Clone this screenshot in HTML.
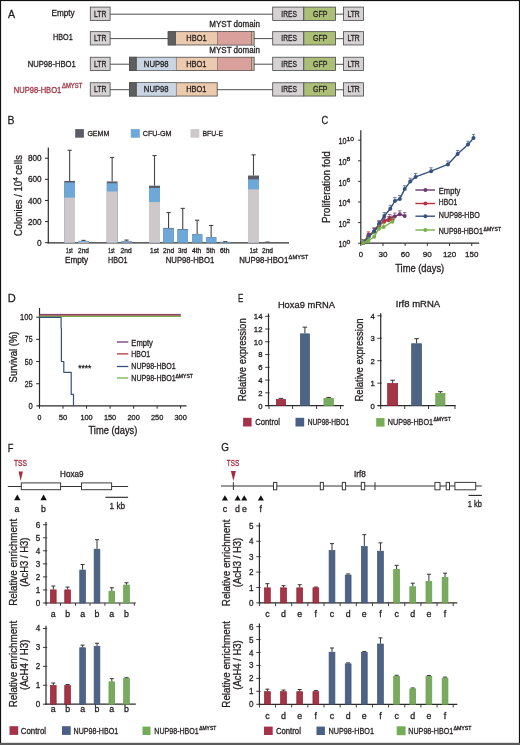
<!DOCTYPE html>
<html><head><meta charset="utf-8"><style>
html,body{margin:0;padding:0;background:#fff;width:520px;height:745px;overflow:hidden}
svg{display:block;will-change:transform}
text{font-family:"Liberation Sans",sans-serif;stroke-width:0.3px}
</style></head><body>
<svg width="520" height="745" viewBox="0 0 520 745">
<rect x="0" y="0" width="520" height="745" fill="#ffffff"/>
<g fill="#231f20">
<text x="7.90" y="17.80" font-size="11.8" stroke="#231f20" textLength="7.10" lengthAdjust="spacingAndGlyphs">A</text>
<rect x="90.30" y="7.10" width="19.80" height="13.30" fill="#d6d2d3" stroke="#505050" stroke-width="0.85"/>
<text x="100.20" y="16.65" font-size="8.7" text-anchor="middle" stroke="#231f20" textLength="12.30" lengthAdjust="spacingAndGlyphs">LTR</text>
<rect x="272.70" y="7.10" width="31.10" height="13.30" fill="#d6d2d3" stroke="#505050" stroke-width="0.85"/>
<text x="289.10" y="16.65" font-size="8.7" text-anchor="middle" stroke="#231f20" textLength="15.50" lengthAdjust="spacingAndGlyphs">IRES</text>
<rect x="303.80" y="7.10" width="31.70" height="13.30" fill="#abc076" stroke="#505050" stroke-width="0.85"/>
<text x="320.30" y="16.65" font-size="8.7" text-anchor="middle" stroke="#231f20" textLength="14.40" lengthAdjust="spacingAndGlyphs">GFP</text>
<rect x="343.50" y="7.10" width="20.00" height="13.30" fill="#d6d2d3" stroke="#505050" stroke-width="0.85"/>
<text x="353.60" y="16.65" font-size="8.7" text-anchor="middle" stroke="#231f20" textLength="12.30" lengthAdjust="spacingAndGlyphs">LTR</text>
<line x1="335.50" y1="14.15" x2="343.50" y2="14.15" stroke="#3a3a3a" stroke-width="0.9"/>
<rect x="90.30" y="31.65" width="19.80" height="13.30" fill="#d6d2d3" stroke="#505050" stroke-width="0.85"/>
<text x="100.20" y="41.20" font-size="8.7" text-anchor="middle" stroke="#231f20" textLength="12.30" lengthAdjust="spacingAndGlyphs">LTR</text>
<rect x="272.70" y="31.65" width="31.10" height="13.30" fill="#d6d2d3" stroke="#505050" stroke-width="0.85"/>
<text x="289.10" y="41.20" font-size="8.7" text-anchor="middle" stroke="#231f20" textLength="15.50" lengthAdjust="spacingAndGlyphs">IRES</text>
<rect x="303.80" y="31.65" width="31.70" height="13.30" fill="#abc076" stroke="#505050" stroke-width="0.85"/>
<text x="320.30" y="41.20" font-size="8.7" text-anchor="middle" stroke="#231f20" textLength="14.40" lengthAdjust="spacingAndGlyphs">GFP</text>
<rect x="343.50" y="31.65" width="20.00" height="13.30" fill="#d6d2d3" stroke="#505050" stroke-width="0.85"/>
<text x="353.60" y="41.20" font-size="8.7" text-anchor="middle" stroke="#231f20" textLength="12.30" lengthAdjust="spacingAndGlyphs">LTR</text>
<line x1="335.50" y1="38.70" x2="343.50" y2="38.70" stroke="#3a3a3a" stroke-width="0.9"/>
<rect x="90.30" y="57.25" width="19.80" height="13.30" fill="#d6d2d3" stroke="#505050" stroke-width="0.85"/>
<text x="100.20" y="66.80" font-size="8.7" text-anchor="middle" stroke="#231f20" textLength="12.30" lengthAdjust="spacingAndGlyphs">LTR</text>
<rect x="272.70" y="57.25" width="31.10" height="13.30" fill="#d6d2d3" stroke="#505050" stroke-width="0.85"/>
<text x="289.10" y="66.80" font-size="8.7" text-anchor="middle" stroke="#231f20" textLength="15.50" lengthAdjust="spacingAndGlyphs">IRES</text>
<rect x="303.80" y="57.25" width="31.70" height="13.30" fill="#abc076" stroke="#505050" stroke-width="0.85"/>
<text x="320.30" y="66.80" font-size="8.7" text-anchor="middle" stroke="#231f20" textLength="14.40" lengthAdjust="spacingAndGlyphs">GFP</text>
<rect x="343.50" y="57.25" width="20.00" height="13.30" fill="#d6d2d3" stroke="#505050" stroke-width="0.85"/>
<text x="353.60" y="66.80" font-size="8.7" text-anchor="middle" stroke="#231f20" textLength="12.30" lengthAdjust="spacingAndGlyphs">LTR</text>
<line x1="335.50" y1="64.30" x2="343.50" y2="64.30" stroke="#3a3a3a" stroke-width="0.9"/>
<rect x="90.30" y="82.75" width="19.80" height="13.30" fill="#d6d2d3" stroke="#505050" stroke-width="0.85"/>
<text x="100.20" y="92.30" font-size="8.7" text-anchor="middle" stroke="#231f20" textLength="12.30" lengthAdjust="spacingAndGlyphs">LTR</text>
<rect x="272.70" y="82.75" width="31.10" height="13.30" fill="#d6d2d3" stroke="#505050" stroke-width="0.85"/>
<text x="289.10" y="92.30" font-size="8.7" text-anchor="middle" stroke="#231f20" textLength="15.50" lengthAdjust="spacingAndGlyphs">IRES</text>
<rect x="303.80" y="82.75" width="31.70" height="13.30" fill="#abc076" stroke="#505050" stroke-width="0.85"/>
<text x="320.30" y="92.30" font-size="8.7" text-anchor="middle" stroke="#231f20" textLength="14.40" lengthAdjust="spacingAndGlyphs">GFP</text>
<rect x="343.50" y="82.75" width="20.00" height="13.30" fill="#d6d2d3" stroke="#505050" stroke-width="0.85"/>
<text x="353.60" y="92.30" font-size="8.7" text-anchor="middle" stroke="#231f20" textLength="12.30" lengthAdjust="spacingAndGlyphs">LTR</text>
<line x1="335.50" y1="89.80" x2="343.50" y2="89.80" stroke="#3a3a3a" stroke-width="0.9"/>
<text x="74.60" y="16.10" font-size="8.2" text-anchor="end" stroke="#231f20" textLength="23.10" lengthAdjust="spacingAndGlyphs">Empty</text>
<text x="72.70" y="40.10" font-size="8.2" text-anchor="end" stroke="#231f20" textLength="19.70" lengthAdjust="spacingAndGlyphs">HBO1</text>
<text x="75.80" y="67.30" font-size="8.4" text-anchor="end" stroke="#231f20" textLength="48.10" lengthAdjust="spacingAndGlyphs">NUP98-HBO1</text>
<text x="61.20" y="92.70" font-size="8.4" text-anchor="end" fill="#a23646" stroke="#a23646" textLength="47.40" lengthAdjust="spacingAndGlyphs">NUP98-HBO1</text>
<text x="62.00" y="88.10" font-size="6.3" fill="#a23646" stroke="#a23646" stroke-width="0.05" textLength="20.30" lengthAdjust="spacingAndGlyphs">&#916;MYST</text>
<line x1="110.10" y1="14.20" x2="272.70" y2="14.20" stroke="#3a3a3a" stroke-width="0.9"/>
<line x1="110.10" y1="38.60" x2="168.20" y2="38.60" stroke="#3a3a3a" stroke-width="0.9"/>
<rect x="168.20" y="31.65" width="85.80" height="13.30" fill="#eccaae" stroke="#505050" stroke-width="0.85"/>
<rect x="168.20" y="31.65" width="7.30" height="13.30" fill="#5e5f61" stroke="#505050" stroke-width="0.85"/>
<rect x="217.50" y="31.65" width="33.80" height="13.30" fill="#d9a09c" stroke="#505050" stroke-width="0.5"/>
<rect x="251.30" y="31.65" width="2.70" height="13.30" fill="#c9b49b" stroke="#505050" stroke-width="0.5"/>
<text x="196.50" y="41.20" font-size="8.7" text-anchor="middle" stroke="#231f20" textLength="20.30" lengthAdjust="spacingAndGlyphs">HBO1</text>
<line x1="254.00" y1="38.60" x2="272.70" y2="38.60" stroke="#3a3a3a" stroke-width="0.9"/>
<text x="209.30" y="26.80" font-size="8.5" stroke="#231f20" textLength="50.60" lengthAdjust="spacingAndGlyphs">MYST domain</text>
<line x1="110.10" y1="64.20" x2="129.50" y2="64.20" stroke="#3a3a3a" stroke-width="0.9"/>
<rect x="129.50" y="57.25" width="124.50" height="13.30" fill="#eccaae" stroke="#505050" stroke-width="0.85"/>
<rect x="136.20" y="57.25" width="40.00" height="13.30" fill="#c9d5e3" stroke="#505050" stroke-width="0.5"/>
<rect x="129.50" y="57.25" width="6.70" height="13.30" fill="#5e5f61" stroke="#505050" stroke-width="0.85"/>
<rect x="217.50" y="57.25" width="33.80" height="13.30" fill="#d9a09c" stroke="#505050" stroke-width="0.5"/>
<rect x="251.30" y="57.25" width="2.70" height="13.30" fill="#c9b49b" stroke="#505050" stroke-width="0.5"/>
<text x="156.20" y="66.90" font-size="8.7" text-anchor="middle" stroke="#231f20" textLength="24.70" lengthAdjust="spacingAndGlyphs">NUP98</text>
<text x="196.30" y="66.90" font-size="8.7" text-anchor="middle" stroke="#231f20" textLength="20.30" lengthAdjust="spacingAndGlyphs">HBO1</text>
<line x1="254.00" y1="64.20" x2="272.70" y2="64.20" stroke="#3a3a3a" stroke-width="0.9"/>
<text x="209.30" y="53.40" font-size="8.5" stroke="#231f20" textLength="50.60" lengthAdjust="spacingAndGlyphs">MYST domain</text>
<line x1="110.10" y1="89.70" x2="129.50" y2="89.70" stroke="#3a3a3a" stroke-width="0.9"/>
<rect x="129.50" y="82.75" width="87.70" height="13.30" fill="#eccaae" stroke="#505050" stroke-width="0.85"/>
<rect x="136.20" y="82.75" width="40.00" height="13.30" fill="#c9d5e3" stroke="#505050" stroke-width="0.5"/>
<rect x="129.50" y="82.75" width="6.70" height="13.30" fill="#5e5f61" stroke="#505050" stroke-width="0.85"/>
<text x="156.20" y="92.40" font-size="8.7" text-anchor="middle" stroke="#231f20" textLength="24.70" lengthAdjust="spacingAndGlyphs">NUP98</text>
<text x="196.30" y="92.40" font-size="8.7" text-anchor="middle" stroke="#231f20" textLength="20.30" lengthAdjust="spacingAndGlyphs">HBO1</text>
<line x1="217.20" y1="89.70" x2="272.70" y2="89.70" stroke="#3a3a3a" stroke-width="0.9"/>
<text x="7.50" y="123.80" font-size="11.8" stroke="#231f20" textLength="7.00" lengthAdjust="spacingAndGlyphs">B</text>
<rect x="75.20" y="129.10" width="8.70" height="8.60" fill="#5a5c68"/>
<text x="87.40" y="135.80" font-size="8.0" stroke="#231f20" textLength="21.90" lengthAdjust="spacingAndGlyphs">GEMM</text>
<rect x="130.80" y="129.10" width="9.00" height="8.60" fill="#6ea8d8"/>
<text x="142.70" y="135.80" font-size="8.0" stroke="#231f20" textLength="28.80" lengthAdjust="spacingAndGlyphs">CFU-GM</text>
<rect x="190.50" y="129.10" width="8.80" height="8.60" fill="#cec8ca"/>
<text x="202.50" y="135.80" font-size="8.0" stroke="#231f20" textLength="20.50" lengthAdjust="spacingAndGlyphs">BFU-E</text>
<line x1="48.30" y1="147.50" x2="48.30" y2="243.20" stroke="#2b2b2b" stroke-width="1.2"/>
<line x1="47.70" y1="242.80" x2="289.00" y2="242.80" stroke="#2b2b2b" stroke-width="1.2"/>
<line x1="45.00" y1="242.70" x2="48.30" y2="242.70" stroke="#2b2b2b" stroke-width="1"/>
<text x="41.60" y="245.80" font-size="8.6" text-anchor="end" stroke="#231f20" textLength="4.60" lengthAdjust="spacingAndGlyphs">0</text>
<line x1="45.00" y1="221.58" x2="48.30" y2="221.58" stroke="#2b2b2b" stroke-width="1"/>
<text x="41.60" y="224.68" font-size="8.6" text-anchor="end" stroke="#231f20" textLength="13.60" lengthAdjust="spacingAndGlyphs">200</text>
<line x1="45.00" y1="200.46" x2="48.30" y2="200.46" stroke="#2b2b2b" stroke-width="1"/>
<text x="41.60" y="203.56" font-size="8.6" text-anchor="end" stroke="#231f20" textLength="13.60" lengthAdjust="spacingAndGlyphs">400</text>
<line x1="45.00" y1="179.34" x2="48.30" y2="179.34" stroke="#2b2b2b" stroke-width="1"/>
<text x="41.60" y="182.44" font-size="8.6" text-anchor="end" stroke="#231f20" textLength="13.60" lengthAdjust="spacingAndGlyphs">600</text>
<line x1="45.00" y1="158.22" x2="48.30" y2="158.22" stroke="#2b2b2b" stroke-width="1"/>
<text x="41.60" y="161.32" font-size="8.6" text-anchor="end" stroke="#231f20" textLength="13.60" lengthAdjust="spacingAndGlyphs">800</text>
<text x="21.6" y="195.6" font-size="10.4" stroke="#231f20" stroke-width="0.15" text-anchor="middle" transform="rotate(-90 21.6 195.6)" textLength="81" lengthAdjust="spacingAndGlyphs">Colonies / 10<tspan font-size="7.6" dy="-3.9">4</tspan><tspan dy="3.9"> ce</tspan><tspan dx="0.35">l</tspan><tspan dx="0.35">l</tspan><tspan>s</tspan></text>
<line x1="69.65" y1="150.30" x2="69.65" y2="180.92" stroke="#454545" stroke-width="1.1"/>
<line x1="67.55" y1="150.30" x2="71.75" y2="150.30" stroke="#454545" stroke-width="1.1"/>
<rect x="64.30" y="180.92" width="10.70" height="61.78" fill="#5a5c68"/>
<rect x="64.30" y="182.51" width="10.70" height="60.19" fill="#6ea8d8"/>
<rect x="64.30" y="197.61" width="10.70" height="45.09" fill="#cec8ca"/>
<line x1="83.55" y1="240.38" x2="83.55" y2="240.90" stroke="#454545" stroke-width="1.1"/>
<line x1="81.45" y1="240.38" x2="85.65" y2="240.38" stroke="#454545" stroke-width="1.1"/>
<rect x="78.30" y="240.90" width="10.50" height="1.80" fill="#5a5c68"/>
<rect x="78.30" y="241.01" width="10.50" height="1.69" fill="#6ea8d8"/>
<rect x="78.30" y="241.86" width="10.50" height="0.84" fill="#cec8ca"/>
<line x1="112.15" y1="157.48" x2="112.15" y2="181.45" stroke="#454545" stroke-width="1.1"/>
<line x1="110.05" y1="157.48" x2="114.25" y2="157.48" stroke="#454545" stroke-width="1.1"/>
<rect x="106.80" y="181.45" width="10.70" height="61.25" fill="#5a5c68"/>
<rect x="106.80" y="183.25" width="10.70" height="59.45" fill="#6ea8d8"/>
<rect x="106.80" y="191.48" width="10.70" height="51.22" fill="#cec8ca"/>
<line x1="126.55" y1="240.06" x2="126.55" y2="241.33" stroke="#454545" stroke-width="1.1"/>
<line x1="124.45" y1="240.06" x2="128.65" y2="240.06" stroke="#454545" stroke-width="1.1"/>
<rect x="121.30" y="241.33" width="10.50" height="1.37" fill="#5a5c68"/>
<rect x="121.30" y="241.43" width="10.50" height="1.27" fill="#6ea8d8"/>
<rect x="121.30" y="242.49" width="10.50" height="0.21" fill="#cec8ca"/>
<line x1="154.50" y1="155.58" x2="154.50" y2="185.68" stroke="#454545" stroke-width="1.1"/>
<line x1="152.40" y1="155.58" x2="156.60" y2="155.58" stroke="#454545" stroke-width="1.1"/>
<rect x="149.00" y="185.68" width="11.00" height="57.02" fill="#5a5c68"/>
<rect x="149.00" y="188.00" width="11.00" height="54.70" fill="#6ea8d8"/>
<rect x="149.00" y="202.04" width="11.00" height="40.66" fill="#cec8ca"/>
<line x1="168.55" y1="212.60" x2="168.55" y2="227.92" stroke="#454545" stroke-width="1.1"/>
<line x1="166.45" y1="212.60" x2="170.65" y2="212.60" stroke="#454545" stroke-width="1.1"/>
<rect x="163.30" y="227.92" width="10.50" height="14.78" fill="#5a5c68"/>
<rect x="163.30" y="228.44" width="10.50" height="14.26" fill="#6ea8d8"/>
<line x1="182.75" y1="208.38" x2="182.75" y2="228.97" stroke="#454545" stroke-width="1.1"/>
<line x1="180.65" y1="208.38" x2="184.85" y2="208.38" stroke="#454545" stroke-width="1.1"/>
<rect x="177.50" y="228.97" width="10.50" height="13.73" fill="#5a5c68"/>
<rect x="177.50" y="229.50" width="10.50" height="13.20" fill="#6ea8d8"/>
<line x1="197.15" y1="220.21" x2="197.15" y2="234.25" stroke="#454545" stroke-width="1.1"/>
<line x1="195.05" y1="220.21" x2="199.25" y2="220.21" stroke="#454545" stroke-width="1.1"/>
<rect x="192.00" y="234.25" width="10.30" height="8.45" fill="#5a5c68"/>
<rect x="192.00" y="234.46" width="10.30" height="8.24" fill="#6ea8d8"/>
<line x1="211.15" y1="225.49" x2="211.15" y2="237.00" stroke="#454545" stroke-width="1.1"/>
<line x1="209.05" y1="225.49" x2="213.25" y2="225.49" stroke="#454545" stroke-width="1.1"/>
<rect x="206.00" y="237.00" width="10.30" height="5.70" fill="#5a5c68"/>
<rect x="206.00" y="237.21" width="10.30" height="5.49" fill="#6ea8d8"/>
<line x1="225.25" y1="241.64" x2="225.25" y2="241.86" stroke="#454545" stroke-width="1.1"/>
<line x1="223.15" y1="241.64" x2="227.35" y2="241.64" stroke="#454545" stroke-width="1.1"/>
<rect x="220.00" y="241.86" width="10.50" height="0.84" fill="#5a5c68"/>
<rect x="220.00" y="242.07" width="10.50" height="0.63" fill="#6ea8d8"/>
<line x1="253.50" y1="154.84" x2="253.50" y2="175.54" stroke="#454545" stroke-width="1.1"/>
<line x1="251.40" y1="154.84" x2="255.60" y2="154.84" stroke="#454545" stroke-width="1.1"/>
<rect x="248.00" y="175.54" width="11.00" height="67.16" fill="#5a5c68"/>
<rect x="248.00" y="179.34" width="11.00" height="63.36" fill="#6ea8d8"/>
<rect x="248.00" y="189.37" width="11.00" height="53.33" fill="#cec8ca"/>
<line x1="267.50" y1="242.07" x2="267.50" y2="242.28" stroke="#454545" stroke-width="1.1"/>
<line x1="265.40" y1="242.07" x2="269.60" y2="242.07" stroke="#454545" stroke-width="1.1"/>
<rect x="264.50" y="242.28" width="6.00" height="0.42" fill="#5a5c68"/>
<rect x="264.50" y="242.59" width="6.00" height="0.11" fill="#6ea8d8"/>
<text x="66.10" y="252.90" font-size="6.6" stroke="#231f20" textLength="6.60" lengthAdjust="spacingAndGlyphs">1st</text>
<text x="78.00" y="252.90" font-size="6.6" stroke="#231f20" textLength="10.90" lengthAdjust="spacingAndGlyphs">2nd</text>
<text x="108.30" y="252.90" font-size="6.6" stroke="#231f20" textLength="6.20" lengthAdjust="spacingAndGlyphs">1st</text>
<text x="120.60" y="252.90" font-size="6.6" stroke="#231f20" textLength="11.10" lengthAdjust="spacingAndGlyphs">2nd</text>
<text x="150.00" y="252.90" font-size="6.6" stroke="#231f20" textLength="8.70" lengthAdjust="spacingAndGlyphs">1st</text>
<text x="163.00" y="252.90" font-size="6.6" stroke="#231f20" textLength="11.20" lengthAdjust="spacingAndGlyphs">2nd</text>
<text x="178.00" y="252.90" font-size="6.6" stroke="#231f20" textLength="9.00" lengthAdjust="spacingAndGlyphs">3rd</text>
<text x="192.00" y="252.90" font-size="6.6" stroke="#231f20" textLength="9.20" lengthAdjust="spacingAndGlyphs">4th</text>
<text x="206.20" y="252.90" font-size="6.6" stroke="#231f20" textLength="8.80" lengthAdjust="spacingAndGlyphs">5th</text>
<text x="220.00" y="252.90" font-size="6.6" stroke="#231f20" textLength="9.50" lengthAdjust="spacingAndGlyphs">6th</text>
<text x="249.80" y="252.90" font-size="6.6" stroke="#231f20" textLength="7.70" lengthAdjust="spacingAndGlyphs">1st</text>
<text x="262.00" y="252.90" font-size="6.6" stroke="#231f20" textLength="11.00" lengthAdjust="spacingAndGlyphs">2nd</text>
<text x="65.00" y="263.00" font-size="8.3" stroke="#231f20" textLength="23.10" lengthAdjust="spacingAndGlyphs">Empty</text>
<text x="108.00" y="263.00" font-size="8.3" stroke="#231f20" textLength="19.50" lengthAdjust="spacingAndGlyphs">HBO1</text>
<text x="165.80" y="263.00" font-size="8.3" stroke="#231f20" textLength="48.40" lengthAdjust="spacingAndGlyphs">NUP98-HBO1</text>
<text x="239.20" y="263.00" font-size="8.3" stroke="#231f20" textLength="49.10" lengthAdjust="spacingAndGlyphs">NUP98-HBO1</text>
<text x="288.60" y="258.60" font-size="6.0" stroke="#231f20" stroke-width="0.05" textLength="19.80" lengthAdjust="spacingAndGlyphs">&#916;MYST</text>
<text x="321.40" y="123.80" font-size="11.8" stroke="#231f20" textLength="6.70" lengthAdjust="spacingAndGlyphs">C</text>
<line x1="360.80" y1="130.20" x2="360.80" y2="243.70" stroke="#2b2b2b" stroke-width="1.2"/>
<line x1="360.20" y1="243.20" x2="479.20" y2="243.20" stroke="#2b2b2b" stroke-width="1.2"/>
<line x1="358.20" y1="243.20" x2="360.80" y2="243.20" stroke="#2b2b2b" stroke-width="1"/>
<text x="338.40" y="247.40" font-size="8.5" stroke="#231f20" textLength="8.10" lengthAdjust="spacingAndGlyphs">10</text>
<text x="346.40" y="243.80" font-size="5.8" stroke="#231f20" stroke-width="0.05" textLength="3.80" lengthAdjust="spacingAndGlyphs">0</text>
<line x1="358.20" y1="222.60" x2="360.80" y2="222.60" stroke="#2b2b2b" stroke-width="1"/>
<text x="338.40" y="226.80" font-size="8.5" stroke="#231f20" textLength="8.10" lengthAdjust="spacingAndGlyphs">10</text>
<text x="346.40" y="223.20" font-size="5.8" stroke="#231f20" stroke-width="0.05" textLength="3.80" lengthAdjust="spacingAndGlyphs">2</text>
<line x1="358.20" y1="202.00" x2="360.80" y2="202.00" stroke="#2b2b2b" stroke-width="1"/>
<text x="338.40" y="206.20" font-size="8.5" stroke="#231f20" textLength="8.10" lengthAdjust="spacingAndGlyphs">10</text>
<text x="346.40" y="202.60" font-size="5.8" stroke="#231f20" stroke-width="0.05" textLength="3.80" lengthAdjust="spacingAndGlyphs">4</text>
<line x1="358.20" y1="181.40" x2="360.80" y2="181.40" stroke="#2b2b2b" stroke-width="1"/>
<text x="338.40" y="185.60" font-size="8.5" stroke="#231f20" textLength="8.10" lengthAdjust="spacingAndGlyphs">10</text>
<text x="346.40" y="182.00" font-size="5.8" stroke="#231f20" stroke-width="0.05" textLength="3.80" lengthAdjust="spacingAndGlyphs">6</text>
<line x1="358.20" y1="160.80" x2="360.80" y2="160.80" stroke="#2b2b2b" stroke-width="1"/>
<text x="338.40" y="165.00" font-size="8.5" stroke="#231f20" textLength="8.10" lengthAdjust="spacingAndGlyphs">10</text>
<text x="346.40" y="161.40" font-size="5.8" stroke="#231f20" stroke-width="0.05" textLength="3.80" lengthAdjust="spacingAndGlyphs">8</text>
<line x1="358.20" y1="140.20" x2="360.80" y2="140.20" stroke="#2b2b2b" stroke-width="1"/>
<text x="338.40" y="144.40" font-size="8.5" stroke="#231f20" textLength="8.10" lengthAdjust="spacingAndGlyphs">10</text>
<text x="346.40" y="140.80" font-size="5.8" stroke="#231f20" stroke-width="0.05" textLength="7.60" lengthAdjust="spacingAndGlyphs">10</text>
<line x1="360.80" y1="243.20" x2="360.80" y2="245.90" stroke="#2b2b2b" stroke-width="1"/>
<text x="360.80" y="257.10" font-size="8.1" text-anchor="middle" stroke="#231f20" textLength="4.30" lengthAdjust="spacingAndGlyphs">0</text>
<line x1="382.99" y1="243.20" x2="382.99" y2="245.90" stroke="#2b2b2b" stroke-width="1"/>
<text x="382.99" y="257.10" font-size="8.1" text-anchor="middle" stroke="#231f20" textLength="9.00" lengthAdjust="spacingAndGlyphs">30</text>
<line x1="405.17" y1="243.20" x2="405.17" y2="245.90" stroke="#2b2b2b" stroke-width="1"/>
<text x="405.17" y="257.10" font-size="8.1" text-anchor="middle" stroke="#231f20" textLength="9.00" lengthAdjust="spacingAndGlyphs">60</text>
<line x1="427.36" y1="243.20" x2="427.36" y2="245.90" stroke="#2b2b2b" stroke-width="1"/>
<text x="427.36" y="257.10" font-size="8.1" text-anchor="middle" stroke="#231f20" textLength="9.00" lengthAdjust="spacingAndGlyphs">90</text>
<line x1="449.54" y1="243.20" x2="449.54" y2="245.90" stroke="#2b2b2b" stroke-width="1"/>
<text x="449.54" y="257.10" font-size="8.1" text-anchor="middle" stroke="#231f20" textLength="13.30" lengthAdjust="spacingAndGlyphs">120</text>
<line x1="471.73" y1="243.20" x2="471.73" y2="245.90" stroke="#2b2b2b" stroke-width="1"/>
<text x="471.73" y="257.10" font-size="8.1" text-anchor="middle" stroke="#231f20" textLength="13.30" lengthAdjust="spacingAndGlyphs">150</text>
<text x="419.70" y="271.80" font-size="10.1" text-anchor="middle" stroke="#231f20" textLength="49.00" lengthAdjust="spacingAndGlyphs">Time (days)</text>
<text x="329.80" y="187.10" font-size="10.6" text-anchor="middle" stroke="#231f20" stroke-width="0.15" textLength="72.00" lengthAdjust="spacingAndGlyphs" transform="rotate(-90 329.80 187.10)">Proliferation fold</text>
<polyline points="363.20,243.10 368.60,236.70 374.20,231.50 379.00,225.00 384.30,221.00 389.70,217.90 394.70,216.50 399.80,214.20 404.70,216.00" stroke="#6b3a6e" stroke-width="1.4" fill="none" stroke-linejoin="round"/>
<circle cx="363.20" cy="243.10" r="2.0" fill="#6b3a6e"/>
<line x1="363.20" y1="239.70" x2="363.20" y2="243.10" stroke="#6b3a6e" stroke-width="0.7"/>
<line x1="361.50" y1="239.70" x2="364.90" y2="239.70" stroke="#6b3a6e" stroke-width="0.7"/>
<circle cx="368.60" cy="236.70" r="2.0" fill="#6b3a6e"/>
<line x1="368.60" y1="233.30" x2="368.60" y2="236.70" stroke="#6b3a6e" stroke-width="0.7"/>
<line x1="366.90" y1="233.30" x2="370.30" y2="233.30" stroke="#6b3a6e" stroke-width="0.7"/>
<circle cx="374.20" cy="231.50" r="2.0" fill="#6b3a6e"/>
<line x1="374.20" y1="228.10" x2="374.20" y2="231.50" stroke="#6b3a6e" stroke-width="0.7"/>
<line x1="372.50" y1="228.10" x2="375.90" y2="228.10" stroke="#6b3a6e" stroke-width="0.7"/>
<circle cx="379.00" cy="225.00" r="2.0" fill="#6b3a6e"/>
<line x1="379.00" y1="221.60" x2="379.00" y2="225.00" stroke="#6b3a6e" stroke-width="0.7"/>
<line x1="377.30" y1="221.60" x2="380.70" y2="221.60" stroke="#6b3a6e" stroke-width="0.7"/>
<circle cx="384.30" cy="221.00" r="2.0" fill="#6b3a6e"/>
<line x1="384.30" y1="217.60" x2="384.30" y2="221.00" stroke="#6b3a6e" stroke-width="0.7"/>
<line x1="382.60" y1="217.60" x2="386.00" y2="217.60" stroke="#6b3a6e" stroke-width="0.7"/>
<circle cx="389.70" cy="217.90" r="2.0" fill="#6b3a6e"/>
<line x1="389.70" y1="214.50" x2="389.70" y2="217.90" stroke="#6b3a6e" stroke-width="0.7"/>
<line x1="388.00" y1="214.50" x2="391.40" y2="214.50" stroke="#6b3a6e" stroke-width="0.7"/>
<circle cx="394.70" cy="216.50" r="2.0" fill="#6b3a6e"/>
<line x1="394.70" y1="213.10" x2="394.70" y2="216.50" stroke="#6b3a6e" stroke-width="0.7"/>
<line x1="393.00" y1="213.10" x2="396.40" y2="213.10" stroke="#6b3a6e" stroke-width="0.7"/>
<circle cx="399.80" cy="214.20" r="2.0" fill="#6b3a6e"/>
<line x1="399.80" y1="210.80" x2="399.80" y2="214.20" stroke="#6b3a6e" stroke-width="0.7"/>
<line x1="398.10" y1="210.80" x2="401.50" y2="210.80" stroke="#6b3a6e" stroke-width="0.7"/>
<circle cx="404.70" cy="216.00" r="2.0" fill="#6b3a6e"/>
<line x1="404.70" y1="212.60" x2="404.70" y2="216.00" stroke="#6b3a6e" stroke-width="0.7"/>
<line x1="403.00" y1="212.60" x2="406.40" y2="212.60" stroke="#6b3a6e" stroke-width="0.7"/>
<polyline points="363.20,243.10 368.40,235.20 374.20,231.50 379.30,225.20 384.00,221.70 388.60,220.20 392.60,219.40" stroke="#b8323f" stroke-width="1.4" fill="none" stroke-linejoin="round"/>
<circle cx="363.20" cy="243.10" r="2.0" fill="#b8323f"/>
<line x1="363.20" y1="239.70" x2="363.20" y2="243.10" stroke="#b8323f" stroke-width="0.7"/>
<line x1="361.50" y1="239.70" x2="364.90" y2="239.70" stroke="#b8323f" stroke-width="0.7"/>
<circle cx="368.40" cy="235.20" r="2.0" fill="#b8323f"/>
<line x1="368.40" y1="231.80" x2="368.40" y2="235.20" stroke="#b8323f" stroke-width="0.7"/>
<line x1="366.70" y1="231.80" x2="370.10" y2="231.80" stroke="#b8323f" stroke-width="0.7"/>
<circle cx="374.20" cy="231.50" r="2.0" fill="#b8323f"/>
<line x1="374.20" y1="228.10" x2="374.20" y2="231.50" stroke="#b8323f" stroke-width="0.7"/>
<line x1="372.50" y1="228.10" x2="375.90" y2="228.10" stroke="#b8323f" stroke-width="0.7"/>
<circle cx="379.30" cy="225.20" r="2.0" fill="#b8323f"/>
<line x1="379.30" y1="221.80" x2="379.30" y2="225.20" stroke="#b8323f" stroke-width="0.7"/>
<line x1="377.60" y1="221.80" x2="381.00" y2="221.80" stroke="#b8323f" stroke-width="0.7"/>
<circle cx="384.00" cy="221.70" r="2.0" fill="#b8323f"/>
<line x1="384.00" y1="218.30" x2="384.00" y2="221.70" stroke="#b8323f" stroke-width="0.7"/>
<line x1="382.30" y1="218.30" x2="385.70" y2="218.30" stroke="#b8323f" stroke-width="0.7"/>
<circle cx="388.60" cy="220.20" r="2.0" fill="#b8323f"/>
<line x1="388.60" y1="216.80" x2="388.60" y2="220.20" stroke="#b8323f" stroke-width="0.7"/>
<line x1="386.90" y1="216.80" x2="390.30" y2="216.80" stroke="#b8323f" stroke-width="0.7"/>
<circle cx="392.60" cy="219.40" r="2.0" fill="#b8323f"/>
<line x1="392.60" y1="216.00" x2="392.60" y2="219.40" stroke="#b8323f" stroke-width="0.7"/>
<line x1="390.90" y1="216.00" x2="394.30" y2="216.00" stroke="#b8323f" stroke-width="0.7"/>
<polyline points="363.20,243.10 368.60,236.70 374.20,231.50 379.00,224.00 384.30,216.00 390.30,208.70 394.90,201.00 399.80,198.90 404.70,189.10 410.20,181.60 415.60,176.90 431.10,171.20 447.90,164.40 457.60,153.90 468.00,144.60 473.50,138.00" stroke="#35527f" stroke-width="1.4" fill="none" stroke-linejoin="round"/>
<circle cx="363.20" cy="243.10" r="2.0" fill="#35527f"/>
<line x1="363.20" y1="239.70" x2="363.20" y2="243.10" stroke="#35527f" stroke-width="0.7"/>
<line x1="361.50" y1="239.70" x2="364.90" y2="239.70" stroke="#35527f" stroke-width="0.7"/>
<circle cx="368.60" cy="236.70" r="2.0" fill="#35527f"/>
<line x1="368.60" y1="233.30" x2="368.60" y2="236.70" stroke="#35527f" stroke-width="0.7"/>
<line x1="366.90" y1="233.30" x2="370.30" y2="233.30" stroke="#35527f" stroke-width="0.7"/>
<circle cx="374.20" cy="231.50" r="2.0" fill="#35527f"/>
<line x1="374.20" y1="228.10" x2="374.20" y2="231.50" stroke="#35527f" stroke-width="0.7"/>
<line x1="372.50" y1="228.10" x2="375.90" y2="228.10" stroke="#35527f" stroke-width="0.7"/>
<circle cx="379.00" cy="224.00" r="2.0" fill="#35527f"/>
<line x1="379.00" y1="220.60" x2="379.00" y2="224.00" stroke="#35527f" stroke-width="0.7"/>
<line x1="377.30" y1="220.60" x2="380.70" y2="220.60" stroke="#35527f" stroke-width="0.7"/>
<circle cx="384.30" cy="216.00" r="2.0" fill="#35527f"/>
<line x1="384.30" y1="212.60" x2="384.30" y2="216.00" stroke="#35527f" stroke-width="0.7"/>
<line x1="382.60" y1="212.60" x2="386.00" y2="212.60" stroke="#35527f" stroke-width="0.7"/>
<circle cx="390.30" cy="208.70" r="2.0" fill="#35527f"/>
<line x1="390.30" y1="205.30" x2="390.30" y2="208.70" stroke="#35527f" stroke-width="0.7"/>
<line x1="388.60" y1="205.30" x2="392.00" y2="205.30" stroke="#35527f" stroke-width="0.7"/>
<circle cx="394.90" cy="201.00" r="2.0" fill="#35527f"/>
<line x1="394.90" y1="197.60" x2="394.90" y2="201.00" stroke="#35527f" stroke-width="0.7"/>
<line x1="393.20" y1="197.60" x2="396.60" y2="197.60" stroke="#35527f" stroke-width="0.7"/>
<circle cx="399.80" cy="198.90" r="2.0" fill="#35527f"/>
<line x1="399.80" y1="195.50" x2="399.80" y2="198.90" stroke="#35527f" stroke-width="0.7"/>
<line x1="398.10" y1="195.50" x2="401.50" y2="195.50" stroke="#35527f" stroke-width="0.7"/>
<circle cx="404.70" cy="189.10" r="2.0" fill="#35527f"/>
<line x1="404.70" y1="185.70" x2="404.70" y2="189.10" stroke="#35527f" stroke-width="0.7"/>
<line x1="403.00" y1="185.70" x2="406.40" y2="185.70" stroke="#35527f" stroke-width="0.7"/>
<circle cx="410.20" cy="181.60" r="2.0" fill="#35527f"/>
<line x1="410.20" y1="178.20" x2="410.20" y2="181.60" stroke="#35527f" stroke-width="0.7"/>
<line x1="408.50" y1="178.20" x2="411.90" y2="178.20" stroke="#35527f" stroke-width="0.7"/>
<circle cx="415.60" cy="176.90" r="2.0" fill="#35527f"/>
<line x1="415.60" y1="173.50" x2="415.60" y2="176.90" stroke="#35527f" stroke-width="0.7"/>
<line x1="413.90" y1="173.50" x2="417.30" y2="173.50" stroke="#35527f" stroke-width="0.7"/>
<circle cx="431.10" cy="171.20" r="2.0" fill="#35527f"/>
<line x1="431.10" y1="167.80" x2="431.10" y2="171.20" stroke="#35527f" stroke-width="0.7"/>
<line x1="429.40" y1="167.80" x2="432.80" y2="167.80" stroke="#35527f" stroke-width="0.7"/>
<circle cx="447.90" cy="164.40" r="2.0" fill="#35527f"/>
<line x1="447.90" y1="161.00" x2="447.90" y2="164.40" stroke="#35527f" stroke-width="0.7"/>
<line x1="446.20" y1="161.00" x2="449.60" y2="161.00" stroke="#35527f" stroke-width="0.7"/>
<circle cx="457.60" cy="153.90" r="2.0" fill="#35527f"/>
<line x1="457.60" y1="150.50" x2="457.60" y2="153.90" stroke="#35527f" stroke-width="0.7"/>
<line x1="455.90" y1="150.50" x2="459.30" y2="150.50" stroke="#35527f" stroke-width="0.7"/>
<circle cx="468.00" cy="144.60" r="2.0" fill="#35527f"/>
<line x1="468.00" y1="141.20" x2="468.00" y2="144.60" stroke="#35527f" stroke-width="0.7"/>
<line x1="466.30" y1="141.20" x2="469.70" y2="141.20" stroke="#35527f" stroke-width="0.7"/>
<circle cx="473.50" cy="138.00" r="2.0" fill="#35527f"/>
<line x1="473.50" y1="134.60" x2="473.50" y2="138.00" stroke="#35527f" stroke-width="0.7"/>
<line x1="471.80" y1="134.60" x2="475.20" y2="134.60" stroke="#35527f" stroke-width="0.7"/>
<polyline points="363.20,243.10 368.40,240.80 374.20,236.70 379.00,228.70 383.60,227.00 392.40,221.70" stroke="#76b149" stroke-width="1.4" fill="none" stroke-linejoin="round"/>
<circle cx="363.20" cy="243.10" r="2.0" fill="#76b149"/>
<line x1="363.20" y1="239.70" x2="363.20" y2="243.10" stroke="#76b149" stroke-width="0.7"/>
<line x1="361.50" y1="239.70" x2="364.90" y2="239.70" stroke="#76b149" stroke-width="0.7"/>
<circle cx="368.40" cy="240.80" r="2.0" fill="#76b149"/>
<line x1="368.40" y1="237.40" x2="368.40" y2="240.80" stroke="#76b149" stroke-width="0.7"/>
<line x1="366.70" y1="237.40" x2="370.10" y2="237.40" stroke="#76b149" stroke-width="0.7"/>
<circle cx="374.20" cy="236.70" r="2.0" fill="#76b149"/>
<line x1="374.20" y1="233.30" x2="374.20" y2="236.70" stroke="#76b149" stroke-width="0.7"/>
<line x1="372.50" y1="233.30" x2="375.90" y2="233.30" stroke="#76b149" stroke-width="0.7"/>
<circle cx="379.00" cy="228.70" r="2.0" fill="#76b149"/>
<line x1="379.00" y1="225.30" x2="379.00" y2="228.70" stroke="#76b149" stroke-width="0.7"/>
<line x1="377.30" y1="225.30" x2="380.70" y2="225.30" stroke="#76b149" stroke-width="0.7"/>
<circle cx="383.60" cy="227.00" r="2.0" fill="#76b149"/>
<line x1="383.60" y1="223.60" x2="383.60" y2="227.00" stroke="#76b149" stroke-width="0.7"/>
<line x1="381.90" y1="223.60" x2="385.30" y2="223.60" stroke="#76b149" stroke-width="0.7"/>
<circle cx="392.40" cy="221.70" r="2.0" fill="#76b149"/>
<line x1="392.40" y1="218.30" x2="392.40" y2="221.70" stroke="#76b149" stroke-width="0.7"/>
<line x1="390.70" y1="218.30" x2="394.10" y2="218.30" stroke="#76b149" stroke-width="0.7"/>
<line x1="415.40" y1="190.00" x2="435.00" y2="190.00" stroke="#6b3a6e" stroke-width="1.4"/>
<circle cx="425.40" cy="190.00" r="2.0" fill="#6b3a6e"/>
<text x="438.80" y="193.50" font-size="8.3" stroke="#231f20" textLength="21.50" lengthAdjust="spacingAndGlyphs">Empty</text>
<line x1="415.40" y1="203.50" x2="435.00" y2="203.50" stroke="#b8323f" stroke-width="1.4"/>
<circle cx="425.40" cy="203.50" r="2.0" fill="#b8323f"/>
<text x="438.80" y="205.20" font-size="8.3" stroke="#231f20" textLength="18.40" lengthAdjust="spacingAndGlyphs">HBO1</text>
<line x1="415.40" y1="216.20" x2="435.00" y2="216.20" stroke="#35527f" stroke-width="1.4"/>
<circle cx="425.40" cy="216.20" r="2.0" fill="#35527f"/>
<text x="438.80" y="218.30" font-size="8.3" stroke="#231f20" textLength="41.00" lengthAdjust="spacingAndGlyphs">NUP98-HBO</text>
<line x1="415.40" y1="230.00" x2="435.00" y2="230.00" stroke="#76b149" stroke-width="1.4"/>
<circle cx="425.40" cy="230.00" r="2.0" fill="#76b149"/>
<text x="438.80" y="233.90" font-size="8.3" stroke="#231f20" textLength="44.00" lengthAdjust="spacingAndGlyphs">NUP98-HBO1</text>
<text x="483.50" y="230.80" font-size="5.3" stroke="#231f20" stroke-width="0.05" textLength="17.50" lengthAdjust="spacingAndGlyphs">&#916;MYST</text>
<text x="7.70" y="301.70" font-size="11.8" stroke="#231f20" textLength="8.00" lengthAdjust="spacingAndGlyphs">D</text>
<line x1="39.50" y1="307.90" x2="39.50" y2="406.40" stroke="#2b2b2b" stroke-width="1.2"/>
<line x1="38.30" y1="405.90" x2="186.50" y2="405.90" stroke="#2b2b2b" stroke-width="1.2"/>
<line x1="36.20" y1="405.90" x2="39.50" y2="405.90" stroke="#2b2b2b" stroke-width="1"/>
<text x="32.60" y="408.90" font-size="8.3" text-anchor="end" stroke="#231f20" textLength="4.20" lengthAdjust="spacingAndGlyphs">0</text>
<line x1="36.20" y1="383.72" x2="39.50" y2="383.72" stroke="#2b2b2b" stroke-width="1"/>
<text x="32.60" y="386.72" font-size="8.3" text-anchor="end" stroke="#231f20" textLength="7.80" lengthAdjust="spacingAndGlyphs">25</text>
<line x1="36.20" y1="361.54" x2="39.50" y2="361.54" stroke="#2b2b2b" stroke-width="1"/>
<text x="32.60" y="364.54" font-size="8.3" text-anchor="end" stroke="#231f20" textLength="7.80" lengthAdjust="spacingAndGlyphs">50</text>
<line x1="36.20" y1="339.36" x2="39.50" y2="339.36" stroke="#2b2b2b" stroke-width="1"/>
<text x="32.60" y="342.36" font-size="8.3" text-anchor="end" stroke="#231f20" textLength="7.80" lengthAdjust="spacingAndGlyphs">75</text>
<line x1="36.20" y1="317.18" x2="39.50" y2="317.18" stroke="#2b2b2b" stroke-width="1"/>
<text x="32.60" y="320.18" font-size="8.3" text-anchor="end" stroke="#231f20" textLength="12.50" lengthAdjust="spacingAndGlyphs">100</text>
<line x1="39.50" y1="405.90" x2="39.50" y2="408.70" stroke="#2b2b2b" stroke-width="1"/>
<text x="39.50" y="420.30" font-size="7.8" text-anchor="middle" stroke="#231f20" textLength="3.90" lengthAdjust="spacingAndGlyphs">0</text>
<line x1="63.02" y1="405.90" x2="63.02" y2="408.70" stroke="#2b2b2b" stroke-width="1"/>
<text x="63.02" y="420.30" font-size="7.8" text-anchor="middle" stroke="#231f20" textLength="8.50" lengthAdjust="spacingAndGlyphs">50</text>
<line x1="86.55" y1="405.90" x2="86.55" y2="408.70" stroke="#2b2b2b" stroke-width="1"/>
<text x="86.55" y="420.30" font-size="7.8" text-anchor="middle" stroke="#231f20" textLength="12.30" lengthAdjust="spacingAndGlyphs">100</text>
<line x1="110.08" y1="405.90" x2="110.08" y2="408.70" stroke="#2b2b2b" stroke-width="1"/>
<text x="110.08" y="420.30" font-size="7.8" text-anchor="middle" stroke="#231f20" textLength="12.30" lengthAdjust="spacingAndGlyphs">150</text>
<line x1="133.60" y1="405.90" x2="133.60" y2="408.70" stroke="#2b2b2b" stroke-width="1"/>
<text x="133.60" y="420.30" font-size="7.8" text-anchor="middle" stroke="#231f20" textLength="12.30" lengthAdjust="spacingAndGlyphs">200</text>
<line x1="157.12" y1="405.90" x2="157.12" y2="408.70" stroke="#2b2b2b" stroke-width="1"/>
<text x="157.12" y="420.30" font-size="7.8" text-anchor="middle" stroke="#231f20" textLength="12.30" lengthAdjust="spacingAndGlyphs">250</text>
<line x1="180.65" y1="405.90" x2="180.65" y2="408.70" stroke="#2b2b2b" stroke-width="1"/>
<text x="180.65" y="420.30" font-size="7.8" text-anchor="middle" stroke="#231f20" textLength="12.30" lengthAdjust="spacingAndGlyphs">300</text>
<text x="112.90" y="434.20" font-size="10.1" text-anchor="middle" stroke="#231f20" textLength="48.80" lengthAdjust="spacingAndGlyphs">Time (days)</text>
<text x="16.80" y="357.00" font-size="10.6" text-anchor="middle" stroke="#231f20" stroke-width="0.15" textLength="50.80" lengthAdjust="spacingAndGlyphs" transform="rotate(-90 16.80 357.00)">Survival (%)</text>
<line x1="39.50" y1="314.40" x2="180.80" y2="314.40" stroke="#6b3a6e" stroke-width="1.0"/>
<line x1="39.50" y1="315.30" x2="180.80" y2="315.30" stroke="#b8323f" stroke-width="1.0"/>
<line x1="39.50" y1="316.35" x2="180.80" y2="316.35" stroke="#76b149" stroke-width="1.05"/>
<polyline points="39.50,317.35 61.10,317.35 61.10,328.00 61.40,328.00 61.40,361.50 63.80,361.50 63.80,372.30 71.20,372.30 71.20,394.40 73.50,394.40 73.50,405.90" stroke="#35527f" stroke-width="1.2" fill="none" stroke-linejoin="round"/>
<text x="84.80" y="370.50" font-size="9.0" text-anchor="middle" stroke="#231f20" textLength="13.20" lengthAdjust="spacingAndGlyphs">****</text>
<line x1="116.90" y1="342.00" x2="128.30" y2="342.00" stroke="#6b3a6e" stroke-width="1.3"/>
<text x="131.30" y="345.60" font-size="8.3" stroke="#231f20" textLength="21.60" lengthAdjust="spacingAndGlyphs">Empty</text>
<line x1="116.90" y1="353.90" x2="128.30" y2="353.90" stroke="#b8323f" stroke-width="1.3"/>
<text x="131.30" y="356.70" font-size="8.3" stroke="#231f20" textLength="18.80" lengthAdjust="spacingAndGlyphs">HBO1</text>
<line x1="116.90" y1="366.50" x2="128.30" y2="366.50" stroke="#35527f" stroke-width="1.3"/>
<text x="131.30" y="369.30" font-size="8.3" stroke="#231f20" textLength="44.40" lengthAdjust="spacingAndGlyphs">NUP98-HBO1</text>
<line x1="116.90" y1="378.00" x2="128.30" y2="378.00" stroke="#76b149" stroke-width="1.3"/>
<text x="131.30" y="381.20" font-size="8.3" stroke="#231f20" textLength="44.40" lengthAdjust="spacingAndGlyphs">NUP98-HBO1</text>
<text x="175.40" y="378.00" font-size="5.3" stroke="#231f20" stroke-width="0.05" textLength="17.50" lengthAdjust="spacingAndGlyphs">&#916;MYST</text>
<text x="238.10" y="301.90" font-size="11.8" stroke="#231f20" textLength="5.30" lengthAdjust="spacingAndGlyphs">E</text>
<text x="306.40" y="307.50" font-size="9.8" text-anchor="middle" stroke="#231f20" textLength="57.00" lengthAdjust="spacingAndGlyphs">Hoxa9 mRNA</text>
<text x="418.00" y="307.20" font-size="9.8" text-anchor="middle" stroke="#231f20" textLength="44.40" lengthAdjust="spacingAndGlyphs">Irf8 mRNA</text>
<line x1="268.50" y1="313.50" x2="268.50" y2="405.80" stroke="#2b2b2b" stroke-width="1.2"/>
<line x1="265.40" y1="405.60" x2="343.70" y2="405.60" stroke="#2b2b2b" stroke-width="1.2"/>
<line x1="265.20" y1="405.60" x2="269.60" y2="405.60" stroke="#2b2b2b" stroke-width="0.9"/>
<text x="262.50" y="408.50" font-size="8.0" text-anchor="end" stroke="#231f20" textLength="4.30" lengthAdjust="spacingAndGlyphs">0</text>
<line x1="265.20" y1="392.84" x2="269.60" y2="392.84" stroke="#2b2b2b" stroke-width="0.9"/>
<text x="262.50" y="395.74" font-size="8.0" text-anchor="end" stroke="#231f20" textLength="4.30" lengthAdjust="spacingAndGlyphs">2</text>
<line x1="265.20" y1="380.08" x2="269.60" y2="380.08" stroke="#2b2b2b" stroke-width="0.9"/>
<text x="262.50" y="382.98" font-size="8.0" text-anchor="end" stroke="#231f20" textLength="4.30" lengthAdjust="spacingAndGlyphs">4</text>
<line x1="265.20" y1="367.32" x2="269.60" y2="367.32" stroke="#2b2b2b" stroke-width="0.9"/>
<text x="262.50" y="370.22" font-size="8.0" text-anchor="end" stroke="#231f20" textLength="4.30" lengthAdjust="spacingAndGlyphs">6</text>
<line x1="265.20" y1="354.56" x2="269.60" y2="354.56" stroke="#2b2b2b" stroke-width="0.9"/>
<text x="262.50" y="357.46" font-size="8.0" text-anchor="end" stroke="#231f20" textLength="4.30" lengthAdjust="spacingAndGlyphs">8</text>
<line x1="265.20" y1="341.80" x2="269.60" y2="341.80" stroke="#2b2b2b" stroke-width="0.9"/>
<text x="262.50" y="344.70" font-size="8.0" text-anchor="end" stroke="#231f20" textLength="8.70" lengthAdjust="spacingAndGlyphs">10</text>
<line x1="265.20" y1="329.04" x2="269.60" y2="329.04" stroke="#2b2b2b" stroke-width="0.9"/>
<text x="262.50" y="331.94" font-size="8.0" text-anchor="end" stroke="#231f20" textLength="8.70" lengthAdjust="spacingAndGlyphs">12</text>
<line x1="265.20" y1="316.28" x2="269.60" y2="316.28" stroke="#2b2b2b" stroke-width="0.9"/>
<text x="262.50" y="319.18" font-size="8.0" text-anchor="end" stroke="#231f20" textLength="8.70" lengthAdjust="spacingAndGlyphs">14</text>
<line x1="269.00" y1="405.60" x2="269.00" y2="409.00" stroke="#2b2b2b" stroke-width="0.9"/>
<line x1="292.60" y1="405.60" x2="292.60" y2="409.00" stroke="#2b2b2b" stroke-width="0.9"/>
<line x1="316.60" y1="405.60" x2="316.60" y2="409.00" stroke="#2b2b2b" stroke-width="0.9"/>
<line x1="340.50" y1="405.60" x2="340.50" y2="409.00" stroke="#2b2b2b" stroke-width="0.9"/>
<line x1="281.00" y1="398.39" x2="281.00" y2="399.22" stroke="#333" stroke-width="1.0"/>
<line x1="278.70" y1="398.39" x2="283.30" y2="398.39" stroke="#333" stroke-width="1.0"/>
<rect x="276.35" y="399.57" width="9.30" height="6.03" fill="#a23646" stroke="#921c31" stroke-width="0.7"/>
<line x1="304.90" y1="327.13" x2="304.90" y2="333.51" stroke="#333" stroke-width="1.0"/>
<line x1="302.60" y1="327.13" x2="307.20" y2="327.13" stroke="#333" stroke-width="1.0"/>
<rect x="300.35" y="333.86" width="9.10" height="71.74" fill="#4f6384" stroke="#3b5378" stroke-width="0.7"/>
<line x1="328.65" y1="397.43" x2="328.65" y2="398.14" stroke="#333" stroke-width="1.0"/>
<line x1="326.35" y1="397.43" x2="330.95" y2="397.43" stroke="#333" stroke-width="1.0"/>
<rect x="323.95" y="398.49" width="9.40" height="7.11" fill="#7aa961" stroke="#64a044" stroke-width="0.7"/>
<text x="246.20" y="359.80" font-size="10.6" text-anchor="middle" stroke="#231f20" stroke-width="0.15" textLength="83.00" lengthAdjust="spacingAndGlyphs" transform="rotate(-90 246.20 359.80)">Relative expression</text>
<line x1="380.70" y1="313.20" x2="380.70" y2="405.80" stroke="#2b2b2b" stroke-width="1.2"/>
<line x1="377.50" y1="405.60" x2="455.70" y2="405.60" stroke="#2b2b2b" stroke-width="1.2"/>
<line x1="377.30" y1="405.60" x2="381.80" y2="405.60" stroke="#2b2b2b" stroke-width="0.9"/>
<text x="374.80" y="408.50" font-size="8.0" text-anchor="end" stroke="#231f20" textLength="4.30" lengthAdjust="spacingAndGlyphs">0</text>
<line x1="377.30" y1="383.15" x2="381.80" y2="383.15" stroke="#2b2b2b" stroke-width="0.9"/>
<text x="374.80" y="386.05" font-size="8.0" text-anchor="end" stroke="#231f20" textLength="4.30" lengthAdjust="spacingAndGlyphs">1</text>
<line x1="377.30" y1="360.70" x2="381.80" y2="360.70" stroke="#2b2b2b" stroke-width="0.9"/>
<text x="374.80" y="363.60" font-size="8.0" text-anchor="end" stroke="#231f20" textLength="4.30" lengthAdjust="spacingAndGlyphs">2</text>
<line x1="377.30" y1="338.25" x2="381.80" y2="338.25" stroke="#2b2b2b" stroke-width="0.9"/>
<text x="374.80" y="341.15" font-size="8.0" text-anchor="end" stroke="#231f20" textLength="4.30" lengthAdjust="spacingAndGlyphs">3</text>
<line x1="377.30" y1="315.80" x2="381.80" y2="315.80" stroke="#2b2b2b" stroke-width="0.9"/>
<text x="374.80" y="318.70" font-size="8.0" text-anchor="end" stroke="#231f20" textLength="4.30" lengthAdjust="spacingAndGlyphs">4</text>
<line x1="380.70" y1="405.60" x2="380.70" y2="409.00" stroke="#2b2b2b" stroke-width="0.9"/>
<line x1="404.70" y1="405.60" x2="404.70" y2="409.00" stroke="#2b2b2b" stroke-width="0.9"/>
<line x1="428.50" y1="405.60" x2="428.50" y2="409.00" stroke="#2b2b2b" stroke-width="0.9"/>
<line x1="455.00" y1="405.60" x2="455.00" y2="409.00" stroke="#2b2b2b" stroke-width="0.9"/>
<line x1="392.65" y1="380.23" x2="392.65" y2="383.15" stroke="#333" stroke-width="1.0"/>
<line x1="390.35" y1="380.23" x2="394.95" y2="380.23" stroke="#333" stroke-width="1.0"/>
<rect x="387.65" y="383.50" width="10.00" height="22.10" fill="#a23646" stroke="#921c31" stroke-width="0.7"/>
<line x1="416.60" y1="338.70" x2="416.60" y2="343.41" stroke="#333" stroke-width="1.0"/>
<line x1="414.30" y1="338.70" x2="418.90" y2="338.70" stroke="#333" stroke-width="1.0"/>
<rect x="411.65" y="343.76" width="9.90" height="61.84" fill="#4f6384" stroke="#3b5378" stroke-width="0.7"/>
<line x1="440.35" y1="391.68" x2="440.35" y2="393.03" stroke="#333" stroke-width="1.0"/>
<line x1="438.05" y1="391.68" x2="442.65" y2="391.68" stroke="#333" stroke-width="1.0"/>
<rect x="435.75" y="393.38" width="9.20" height="12.22" fill="#7aa961" stroke="#64a044" stroke-width="0.7"/>
<text x="362.90" y="360.00" font-size="10.6" text-anchor="middle" stroke="#231f20" stroke-width="0.15" textLength="83.00" lengthAdjust="spacingAndGlyphs" transform="rotate(-90 362.90 360.00)">Relative expression</text>
<rect x="243.10" y="417.80" width="8.50" height="8.70" fill="#a6324a"/>
<text x="255.30" y="425.20" font-size="8.8" stroke="#231f20" textLength="24.70" lengthAdjust="spacingAndGlyphs">Control</text>
<rect x="295.50" y="417.80" width="8.70" height="8.70" fill="#4a5f85"/>
<text x="307.70" y="425.20" font-size="8.8" stroke="#231f20" textLength="41.50" lengthAdjust="spacingAndGlyphs">NUP98-HBO1</text>
<rect x="376.20" y="418.10" width="8.30" height="8.50" fill="#74ad56"/>
<text x="387.80" y="425.20" font-size="8.8" stroke="#231f20" textLength="45.20" lengthAdjust="spacingAndGlyphs">NUP98-HBO1</text>
<text x="433.40" y="421.40" font-size="5.3" stroke="#231f20" stroke-width="0.05" textLength="17.40" lengthAdjust="spacingAndGlyphs">&#916;MYST</text>
<text x="7.80" y="451.80" font-size="11.8" stroke="#231f20" textLength="5.70" lengthAdjust="spacingAndGlyphs">F</text>
<text x="20.50" y="466.00" font-size="9.2" text-anchor="middle" fill="#a82a3e" stroke="#a82a3e" textLength="12.90" lengthAdjust="spacingAndGlyphs">TSS</text>
<line x1="7.80" y1="486.50" x2="128.10" y2="486.50" stroke="#333" stroke-width="1.0"/>
<rect x="21.30" y="482.90" width="39.30" height="6.80" fill="#ffffff" stroke="#3a3a3a" stroke-width="1.0"/>
<rect x="81.50" y="482.90" width="30.10" height="6.80" fill="#ffffff" stroke="#3a3a3a" stroke-width="1.0"/>
<polygon points="18.60,471.60 22.90,471.60 20.60,481.00" fill="#a82a3e"/>
<text x="71.80" y="477.30" font-size="8.4" text-anchor="middle" stroke="#231f20" textLength="23.40" lengthAdjust="spacingAndGlyphs">Hoxa9</text>
<polygon points="14.10,500.30 20.50,500.30 17.30,494.50" fill="#111"/>
<polygon points="40.40,500.30 46.80,500.30 43.60,494.50" fill="#111"/>
<text x="16.90" y="511.50" font-size="8.8" text-anchor="middle" stroke="#231f20">a</text>
<text x="43.40" y="511.50" font-size="8.8" text-anchor="middle" stroke="#231f20">b</text>
<line x1="105.50" y1="497.30" x2="128.10" y2="497.30" stroke="#222" stroke-width="1.1"/>
<text x="117.30" y="508.60" font-size="8.4" text-anchor="middle" stroke="#231f20" textLength="15.40" lengthAdjust="spacingAndGlyphs">1 kb</text>
<line x1="46.00" y1="521.90" x2="46.00" y2="603.40" stroke="#2b2b2b" stroke-width="1.2"/>
<line x1="45.40" y1="603.00" x2="135.80" y2="603.00" stroke="#2b2b2b" stroke-width="1.2"/>
<line x1="42.90" y1="603.00" x2="47.20" y2="603.00" stroke="#2b2b2b" stroke-width="0.9"/>
<text x="40.20" y="606.00" font-size="8.3" text-anchor="end" stroke="#231f20" textLength="4.50" lengthAdjust="spacingAndGlyphs">0</text>
<line x1="42.90" y1="589.95" x2="47.20" y2="589.95" stroke="#2b2b2b" stroke-width="0.9"/>
<text x="40.20" y="592.95" font-size="8.3" text-anchor="end" stroke="#231f20" textLength="4.50" lengthAdjust="spacingAndGlyphs">1</text>
<line x1="42.90" y1="576.90" x2="47.20" y2="576.90" stroke="#2b2b2b" stroke-width="0.9"/>
<text x="40.20" y="579.90" font-size="8.3" text-anchor="end" stroke="#231f20" textLength="4.50" lengthAdjust="spacingAndGlyphs">2</text>
<line x1="42.90" y1="563.85" x2="47.20" y2="563.85" stroke="#2b2b2b" stroke-width="0.9"/>
<text x="40.20" y="566.85" font-size="8.3" text-anchor="end" stroke="#231f20" textLength="4.50" lengthAdjust="spacingAndGlyphs">3</text>
<line x1="42.90" y1="550.80" x2="47.20" y2="550.80" stroke="#2b2b2b" stroke-width="0.9"/>
<text x="40.20" y="553.80" font-size="8.3" text-anchor="end" stroke="#231f20" textLength="4.50" lengthAdjust="spacingAndGlyphs">4</text>
<line x1="42.90" y1="537.75" x2="47.20" y2="537.75" stroke="#2b2b2b" stroke-width="0.9"/>
<text x="40.20" y="540.75" font-size="8.3" text-anchor="end" stroke="#231f20" textLength="4.50" lengthAdjust="spacingAndGlyphs">5</text>
<line x1="42.90" y1="524.70" x2="47.20" y2="524.70" stroke="#2b2b2b" stroke-width="0.9"/>
<text x="40.20" y="527.70" font-size="8.3" text-anchor="end" stroke="#231f20" textLength="4.50" lengthAdjust="spacingAndGlyphs">6</text>
<line x1="46.10" y1="603.00" x2="46.10" y2="605.80" stroke="#2b2b2b" stroke-width="0.9"/>
<line x1="60.50" y1="603.00" x2="60.50" y2="605.80" stroke="#2b2b2b" stroke-width="0.9"/>
<line x1="75.50" y1="603.00" x2="75.50" y2="605.80" stroke="#2b2b2b" stroke-width="0.9"/>
<line x1="90.00" y1="603.00" x2="90.00" y2="605.80" stroke="#2b2b2b" stroke-width="0.9"/>
<line x1="104.90" y1="603.00" x2="104.90" y2="605.80" stroke="#2b2b2b" stroke-width="0.9"/>
<line x1="119.80" y1="603.00" x2="119.80" y2="605.80" stroke="#2b2b2b" stroke-width="0.9"/>
<line x1="134.30" y1="603.00" x2="134.30" y2="605.80" stroke="#2b2b2b" stroke-width="0.9"/>
<line x1="53.30" y1="586.03" x2="53.30" y2="589.56" stroke="#333" stroke-width="1.0"/>
<line x1="51.30" y1="586.03" x2="55.30" y2="586.03" stroke="#333" stroke-width="1.0"/>
<rect x="50.45" y="589.91" width="5.70" height="13.09" fill="#a23646" stroke="#921c31" stroke-width="0.7"/>
<line x1="67.60" y1="587.08" x2="67.60" y2="589.56" stroke="#333" stroke-width="1.0"/>
<line x1="65.60" y1="587.08" x2="69.60" y2="587.08" stroke="#333" stroke-width="1.0"/>
<rect x="64.75" y="589.91" width="5.70" height="13.09" fill="#a23646" stroke="#921c31" stroke-width="0.7"/>
<line x1="82.60" y1="564.50" x2="82.60" y2="569.72" stroke="#333" stroke-width="1.0"/>
<line x1="80.60" y1="564.50" x2="84.60" y2="564.50" stroke="#333" stroke-width="1.0"/>
<rect x="79.75" y="570.07" width="5.70" height="32.93" fill="#4f6384" stroke="#3b5378" stroke-width="0.7"/>
<line x1="97.00" y1="539.71" x2="97.00" y2="548.84" stroke="#333" stroke-width="1.0"/>
<line x1="95.00" y1="539.71" x2="99.00" y2="539.71" stroke="#333" stroke-width="1.0"/>
<rect x="94.15" y="549.19" width="5.70" height="53.81" fill="#4f6384" stroke="#3b5378" stroke-width="0.7"/>
<line x1="111.80" y1="587.73" x2="111.80" y2="590.86" stroke="#333" stroke-width="1.0"/>
<line x1="109.80" y1="587.73" x2="113.80" y2="587.73" stroke="#333" stroke-width="1.0"/>
<rect x="108.95" y="591.21" width="5.70" height="11.79" fill="#7aa961" stroke="#64a044" stroke-width="0.7"/>
<line x1="126.50" y1="582.77" x2="126.50" y2="584.73" stroke="#333" stroke-width="1.0"/>
<line x1="124.50" y1="582.77" x2="128.50" y2="582.77" stroke="#333" stroke-width="1.0"/>
<rect x="123.65" y="585.08" width="5.70" height="17.92" fill="#7aa961" stroke="#64a044" stroke-width="0.7"/>
<text x="53.30" y="616.70" font-size="8.8" text-anchor="middle" stroke="#231f20">a</text>
<text x="67.60" y="616.70" font-size="8.8" text-anchor="middle" stroke="#231f20">b</text>
<text x="82.60" y="616.70" font-size="8.8" text-anchor="middle" stroke="#231f20">a</text>
<text x="97.00" y="616.70" font-size="8.8" text-anchor="middle" stroke="#231f20">b</text>
<text x="111.80" y="616.70" font-size="8.8" text-anchor="middle" stroke="#231f20">a</text>
<text x="126.50" y="616.70" font-size="8.8" text-anchor="middle" stroke="#231f20">b</text>
<text x="16.80" y="562.30" font-size="10.6" text-anchor="middle" stroke="#231f20" stroke-width="0.15" textLength="87.10" lengthAdjust="spacingAndGlyphs" transform="rotate(-90 16.80 562.30)">Relative enrichment</text>
<text x="28.30" y="562.20" font-size="10.3" text-anchor="middle" stroke="#231f20" stroke-width="0.15" textLength="49.30" lengthAdjust="spacingAndGlyphs" transform="rotate(-90 28.30 562.20)">(AcH3 / H3)</text>
<line x1="46.00" y1="625.68" x2="46.00" y2="704.60" stroke="#2b2b2b" stroke-width="1.2"/>
<line x1="45.40" y1="704.20" x2="135.80" y2="704.20" stroke="#2b2b2b" stroke-width="1.2"/>
<line x1="42.90" y1="704.20" x2="47.20" y2="704.20" stroke="#2b2b2b" stroke-width="0.9"/>
<text x="40.20" y="707.20" font-size="8.3" text-anchor="end" stroke="#231f20" textLength="4.50" lengthAdjust="spacingAndGlyphs">0</text>
<line x1="42.90" y1="685.27" x2="47.20" y2="685.27" stroke="#2b2b2b" stroke-width="0.9"/>
<text x="40.20" y="688.27" font-size="8.3" text-anchor="end" stroke="#231f20" textLength="4.50" lengthAdjust="spacingAndGlyphs">1</text>
<line x1="42.90" y1="666.34" x2="47.20" y2="666.34" stroke="#2b2b2b" stroke-width="0.9"/>
<text x="40.20" y="669.34" font-size="8.3" text-anchor="end" stroke="#231f20" textLength="4.50" lengthAdjust="spacingAndGlyphs">2</text>
<line x1="42.90" y1="647.41" x2="47.20" y2="647.41" stroke="#2b2b2b" stroke-width="0.9"/>
<text x="40.20" y="650.41" font-size="8.3" text-anchor="end" stroke="#231f20" textLength="4.50" lengthAdjust="spacingAndGlyphs">3</text>
<line x1="42.90" y1="628.48" x2="47.20" y2="628.48" stroke="#2b2b2b" stroke-width="0.9"/>
<text x="40.20" y="631.48" font-size="8.3" text-anchor="end" stroke="#231f20" textLength="4.50" lengthAdjust="spacingAndGlyphs">4</text>
<line x1="53.30" y1="683.00" x2="53.30" y2="685.27" stroke="#333" stroke-width="1.0"/>
<line x1="51.30" y1="683.00" x2="55.30" y2="683.00" stroke="#333" stroke-width="1.0"/>
<rect x="50.45" y="685.62" width="5.70" height="18.58" fill="#a23646" stroke="#921c31" stroke-width="0.7"/>
<line x1="67.60" y1="684.51" x2="67.60" y2="685.27" stroke="#333" stroke-width="1.0"/>
<line x1="65.60" y1="684.51" x2="69.60" y2="684.51" stroke="#333" stroke-width="1.0"/>
<rect x="64.75" y="685.62" width="5.70" height="18.58" fill="#a23646" stroke="#921c31" stroke-width="0.7"/>
<line x1="82.60" y1="645.14" x2="82.60" y2="647.41" stroke="#333" stroke-width="1.0"/>
<line x1="80.60" y1="645.14" x2="84.60" y2="645.14" stroke="#333" stroke-width="1.0"/>
<rect x="79.75" y="647.76" width="5.70" height="56.44" fill="#4f6384" stroke="#3b5378" stroke-width="0.7"/>
<line x1="97.00" y1="643.25" x2="97.00" y2="645.90" stroke="#333" stroke-width="1.0"/>
<line x1="95.00" y1="643.25" x2="99.00" y2="643.25" stroke="#333" stroke-width="1.0"/>
<rect x="94.15" y="646.25" width="5.70" height="57.95" fill="#4f6384" stroke="#3b5378" stroke-width="0.7"/>
<line x1="111.80" y1="678.64" x2="111.80" y2="681.48" stroke="#333" stroke-width="1.0"/>
<line x1="109.80" y1="678.64" x2="113.80" y2="678.64" stroke="#333" stroke-width="1.0"/>
<rect x="108.95" y="681.83" width="5.70" height="22.37" fill="#7aa961" stroke="#64a044" stroke-width="0.7"/>
<line x1="126.50" y1="677.70" x2="126.50" y2="678.27" stroke="#333" stroke-width="1.0"/>
<line x1="124.50" y1="677.70" x2="128.50" y2="677.70" stroke="#333" stroke-width="1.0"/>
<rect x="123.65" y="678.62" width="5.70" height="25.58" fill="#7aa961" stroke="#64a044" stroke-width="0.7"/>
<text x="53.30" y="712.10" font-size="8.8" text-anchor="middle" stroke="#231f20">a</text>
<text x="67.60" y="712.10" font-size="8.8" text-anchor="middle" stroke="#231f20">b</text>
<text x="82.60" y="712.10" font-size="8.8" text-anchor="middle" stroke="#231f20">a</text>
<text x="97.00" y="712.10" font-size="8.8" text-anchor="middle" stroke="#231f20">b</text>
<text x="111.80" y="712.10" font-size="8.8" text-anchor="middle" stroke="#231f20">a</text>
<text x="126.50" y="712.10" font-size="8.8" text-anchor="middle" stroke="#231f20">b</text>
<text x="16.80" y="664.00" font-size="10.6" text-anchor="middle" stroke="#231f20" stroke-width="0.15" textLength="86.50" lengthAdjust="spacingAndGlyphs" transform="rotate(-90 16.80 664.00)">Relative enrichment</text>
<text x="28.30" y="664.80" font-size="10.3" text-anchor="middle" stroke="#231f20" stroke-width="0.15" textLength="50.50" lengthAdjust="spacingAndGlyphs" transform="rotate(-90 28.30 664.80)">(AcH4 / H3)</text>
<rect x="9.50" y="726.20" width="8.70" height="8.70" fill="#a6324a"/>
<text x="20.80" y="733.70" font-size="8.8" stroke="#231f20" textLength="25.30" lengthAdjust="spacingAndGlyphs">Control</text>
<rect x="62.00" y="726.20" width="8.70" height="8.70" fill="#4a5f85"/>
<text x="73.50" y="733.70" font-size="8.8" stroke="#231f20" textLength="44.80" lengthAdjust="spacingAndGlyphs">NUP98-HBO1</text>
<rect x="142.50" y="726.60" width="8.00" height="8.40" fill="#74ad56"/>
<text x="154.30" y="733.70" font-size="8.8" stroke="#231f20" textLength="44.50" lengthAdjust="spacingAndGlyphs">NUP98-HBO1</text>
<text x="199.20" y="730.00" font-size="5.3" stroke="#231f20" stroke-width="0.05" textLength="17.00" lengthAdjust="spacingAndGlyphs">&#916;MYST</text>
<text x="221.20" y="451.20" font-size="11.8" stroke="#231f20" textLength="7.70" lengthAdjust="spacingAndGlyphs">G</text>
<text x="233.00" y="465.70" font-size="9.2" text-anchor="middle" fill="#a82a3e" stroke="#a82a3e" textLength="12.40" lengthAdjust="spacingAndGlyphs">TSS</text>
<line x1="221.00" y1="486.00" x2="481.80" y2="486.00" stroke="#333" stroke-width="1.0"/>
<polygon points="230.90,471.00 235.90,471.00 233.40,480.90" fill="#a82a3e"/>
<line x1="233.40" y1="482.20" x2="233.40" y2="490.00" stroke="#3a3a3a" stroke-width="1.0"/>
<line x1="375.00" y1="482.20" x2="375.00" y2="490.00" stroke="#3a3a3a" stroke-width="1.0"/>
<rect x="273.50" y="482.40" width="3.30" height="7.40" fill="#ffffff" stroke="#3a3a3a" stroke-width="1.0"/>
<rect x="320.30" y="482.40" width="3.10" height="7.40" fill="#ffffff" stroke="#3a3a3a" stroke-width="1.0"/>
<rect x="342.30" y="482.40" width="3.30" height="7.40" fill="#ffffff" stroke="#3a3a3a" stroke-width="1.0"/>
<rect x="361.30" y="482.40" width="3.40" height="7.40" fill="#ffffff" stroke="#3a3a3a" stroke-width="1.0"/>
<rect x="434.90" y="482.40" width="5.10" height="7.40" fill="#ffffff" stroke="#3a3a3a" stroke-width="1.0"/>
<rect x="446.20" y="482.40" width="3.30" height="7.40" fill="#ffffff" stroke="#3a3a3a" stroke-width="1.0"/>
<rect x="454.90" y="482.40" width="20.80" height="7.40" fill="#ffffff" stroke="#3a3a3a" stroke-width="1.0"/>
<text x="359.80" y="476.80" font-size="8.4" text-anchor="middle" stroke="#231f20" textLength="11.80" lengthAdjust="spacingAndGlyphs">Irf8</text>
<polygon points="221.90,500.50 228.00,500.50 224.95,495.30" fill="#111"/>
<polygon points="234.60,500.50 240.70,500.50 237.65,495.30" fill="#111"/>
<polygon points="241.20,500.50 247.30,500.50 244.25,495.30" fill="#111"/>
<polygon points="257.80,500.50 263.90,500.50 260.85,495.30" fill="#111"/>
<text x="224.90" y="511.50" font-size="8.8" text-anchor="middle" stroke="#231f20">c</text>
<text x="237.40" y="511.50" font-size="8.8" text-anchor="middle" stroke="#231f20">d</text>
<text x="244.40" y="511.50" font-size="8.8" text-anchor="middle" stroke="#231f20">e</text>
<text x="260.80" y="511.50" font-size="8.8" text-anchor="middle" stroke="#231f20">f</text>
<line x1="468.50" y1="495.40" x2="481.80" y2="495.40" stroke="#222" stroke-width="1.1"/>
<text x="474.80" y="506.70" font-size="8.4" text-anchor="middle" stroke="#231f20" textLength="14.10" lengthAdjust="spacingAndGlyphs">1 kb</text>
<line x1="259.40" y1="522.70" x2="259.40" y2="603.30" stroke="#2b2b2b" stroke-width="1.2"/>
<line x1="258.80" y1="602.90" x2="457.30" y2="602.90" stroke="#2b2b2b" stroke-width="1.2"/>
<line x1="256.30" y1="602.90" x2="260.60" y2="602.90" stroke="#2b2b2b" stroke-width="0.9"/>
<text x="253.40" y="605.90" font-size="8.3" text-anchor="end" stroke="#231f20" textLength="4.50" lengthAdjust="spacingAndGlyphs">0</text>
<line x1="256.30" y1="587.50" x2="260.60" y2="587.50" stroke="#2b2b2b" stroke-width="0.9"/>
<text x="253.40" y="590.50" font-size="8.3" text-anchor="end" stroke="#231f20" textLength="4.50" lengthAdjust="spacingAndGlyphs">1</text>
<line x1="256.30" y1="572.10" x2="260.60" y2="572.10" stroke="#2b2b2b" stroke-width="0.9"/>
<text x="253.40" y="575.10" font-size="8.3" text-anchor="end" stroke="#231f20" textLength="4.50" lengthAdjust="spacingAndGlyphs">2</text>
<line x1="256.30" y1="556.70" x2="260.60" y2="556.70" stroke="#2b2b2b" stroke-width="0.9"/>
<text x="253.40" y="559.70" font-size="8.3" text-anchor="end" stroke="#231f20" textLength="4.50" lengthAdjust="spacingAndGlyphs">3</text>
<line x1="256.30" y1="541.30" x2="260.60" y2="541.30" stroke="#2b2b2b" stroke-width="0.9"/>
<text x="253.40" y="544.30" font-size="8.3" text-anchor="end" stroke="#231f20" textLength="4.50" lengthAdjust="spacingAndGlyphs">4</text>
<line x1="256.30" y1="525.90" x2="260.60" y2="525.90" stroke="#2b2b2b" stroke-width="0.9"/>
<text x="253.40" y="528.90" font-size="8.3" text-anchor="end" stroke="#231f20" textLength="4.50" lengthAdjust="spacingAndGlyphs">5</text>
<line x1="259.40" y1="602.90" x2="259.40" y2="606.10" stroke="#2b2b2b" stroke-width="0.9"/>
<line x1="275.55" y1="602.90" x2="275.55" y2="606.10" stroke="#2b2b2b" stroke-width="0.9"/>
<line x1="291.70" y1="602.90" x2="291.70" y2="606.10" stroke="#2b2b2b" stroke-width="0.9"/>
<line x1="307.85" y1="602.90" x2="307.85" y2="606.10" stroke="#2b2b2b" stroke-width="0.9"/>
<line x1="324.00" y1="602.90" x2="324.00" y2="606.10" stroke="#2b2b2b" stroke-width="0.9"/>
<line x1="340.15" y1="602.90" x2="340.15" y2="606.10" stroke="#2b2b2b" stroke-width="0.9"/>
<line x1="356.30" y1="602.90" x2="356.30" y2="606.10" stroke="#2b2b2b" stroke-width="0.9"/>
<line x1="372.45" y1="602.90" x2="372.45" y2="606.10" stroke="#2b2b2b" stroke-width="0.9"/>
<line x1="388.60" y1="602.90" x2="388.60" y2="606.10" stroke="#2b2b2b" stroke-width="0.9"/>
<line x1="404.75" y1="602.90" x2="404.75" y2="606.10" stroke="#2b2b2b" stroke-width="0.9"/>
<line x1="420.90" y1="602.90" x2="420.90" y2="606.10" stroke="#2b2b2b" stroke-width="0.9"/>
<line x1="437.05" y1="602.90" x2="437.05" y2="606.10" stroke="#2b2b2b" stroke-width="0.9"/>
<line x1="453.20" y1="602.90" x2="453.20" y2="606.10" stroke="#2b2b2b" stroke-width="0.9"/>
<line x1="267.40" y1="583.65" x2="267.40" y2="587.50" stroke="#333" stroke-width="1.0"/>
<line x1="265.40" y1="583.65" x2="269.40" y2="583.65" stroke="#333" stroke-width="1.0"/>
<rect x="264.50" y="587.85" width="5.80" height="15.05" fill="#a23646" stroke="#921c31" stroke-width="0.7"/>
<line x1="283.55" y1="585.65" x2="283.55" y2="587.50" stroke="#333" stroke-width="1.0"/>
<line x1="281.55" y1="585.65" x2="285.55" y2="585.65" stroke="#333" stroke-width="1.0"/>
<rect x="280.65" y="587.85" width="5.80" height="15.05" fill="#a23646" stroke="#921c31" stroke-width="0.7"/>
<line x1="299.70" y1="584.73" x2="299.70" y2="587.50" stroke="#333" stroke-width="1.0"/>
<line x1="297.70" y1="584.73" x2="301.70" y2="584.73" stroke="#333" stroke-width="1.0"/>
<rect x="296.80" y="587.85" width="5.80" height="15.05" fill="#a23646" stroke="#921c31" stroke-width="0.7"/>
<line x1="315.85" y1="587.04" x2="315.85" y2="587.50" stroke="#333" stroke-width="1.0"/>
<line x1="313.85" y1="587.04" x2="317.85" y2="587.04" stroke="#333" stroke-width="1.0"/>
<rect x="312.95" y="587.85" width="5.80" height="15.05" fill="#a23646" stroke="#921c31" stroke-width="0.7"/>
<line x1="332.00" y1="543.61" x2="332.00" y2="550.23" stroke="#333" stroke-width="1.0"/>
<line x1="330.00" y1="543.61" x2="334.00" y2="543.61" stroke="#333" stroke-width="1.0"/>
<rect x="329.10" y="550.58" width="5.80" height="52.32" fill="#4f6384" stroke="#3b5378" stroke-width="0.7"/>
<line x1="348.15" y1="573.95" x2="348.15" y2="574.72" stroke="#333" stroke-width="1.0"/>
<line x1="346.15" y1="573.95" x2="350.15" y2="573.95" stroke="#333" stroke-width="1.0"/>
<rect x="345.25" y="575.07" width="5.80" height="27.83" fill="#4f6384" stroke="#3b5378" stroke-width="0.7"/>
<line x1="364.30" y1="534.68" x2="364.30" y2="546.23" stroke="#333" stroke-width="1.0"/>
<line x1="362.30" y1="534.68" x2="366.30" y2="534.68" stroke="#333" stroke-width="1.0"/>
<rect x="361.40" y="546.58" width="5.80" height="56.32" fill="#4f6384" stroke="#3b5378" stroke-width="0.7"/>
<line x1="380.45" y1="542.84" x2="380.45" y2="550.85" stroke="#333" stroke-width="1.0"/>
<line x1="378.45" y1="542.84" x2="382.45" y2="542.84" stroke="#333" stroke-width="1.0"/>
<rect x="377.55" y="551.20" width="5.80" height="51.70" fill="#4f6384" stroke="#3b5378" stroke-width="0.7"/>
<line x1="396.60" y1="565.32" x2="396.60" y2="569.02" stroke="#333" stroke-width="1.0"/>
<line x1="394.60" y1="565.32" x2="398.60" y2="565.32" stroke="#333" stroke-width="1.0"/>
<rect x="393.70" y="569.37" width="5.80" height="33.53" fill="#7aa961" stroke="#64a044" stroke-width="0.7"/>
<line x1="412.75" y1="583.19" x2="412.75" y2="586.42" stroke="#333" stroke-width="1.0"/>
<line x1="410.75" y1="583.19" x2="414.75" y2="583.19" stroke="#333" stroke-width="1.0"/>
<rect x="409.85" y="586.77" width="5.80" height="16.13" fill="#7aa961" stroke="#64a044" stroke-width="0.7"/>
<line x1="428.90" y1="574.26" x2="428.90" y2="581.03" stroke="#333" stroke-width="1.0"/>
<line x1="426.90" y1="574.26" x2="430.90" y2="574.26" stroke="#333" stroke-width="1.0"/>
<rect x="426.00" y="581.38" width="5.80" height="21.52" fill="#7aa961" stroke="#64a044" stroke-width="0.7"/>
<line x1="445.05" y1="573.18" x2="445.05" y2="577.03" stroke="#333" stroke-width="1.0"/>
<line x1="443.05" y1="573.18" x2="447.05" y2="573.18" stroke="#333" stroke-width="1.0"/>
<rect x="442.15" y="577.38" width="5.80" height="25.52" fill="#7aa961" stroke="#64a044" stroke-width="0.7"/>
<text x="267.40" y="616.90" font-size="8.8" text-anchor="middle" stroke="#231f20">c</text>
<text x="283.55" y="616.90" font-size="8.8" text-anchor="middle" stroke="#231f20">d</text>
<text x="299.70" y="616.90" font-size="8.8" text-anchor="middle" stroke="#231f20">e</text>
<text x="315.85" y="616.90" font-size="8.8" text-anchor="middle" stroke="#231f20">f</text>
<text x="332.00" y="616.90" font-size="8.8" text-anchor="middle" stroke="#231f20">c</text>
<text x="348.15" y="616.90" font-size="8.8" text-anchor="middle" stroke="#231f20">d</text>
<text x="364.30" y="616.90" font-size="8.8" text-anchor="middle" stroke="#231f20">e</text>
<text x="380.45" y="616.90" font-size="8.8" text-anchor="middle" stroke="#231f20">f</text>
<text x="396.60" y="616.90" font-size="8.8" text-anchor="middle" stroke="#231f20">c</text>
<text x="412.75" y="616.90" font-size="8.8" text-anchor="middle" stroke="#231f20">d</text>
<text x="428.90" y="616.90" font-size="8.8" text-anchor="middle" stroke="#231f20">e</text>
<text x="445.05" y="616.90" font-size="8.8" text-anchor="middle" stroke="#231f20">f</text>
<text x="230.00" y="562.90" font-size="10.6" text-anchor="middle" stroke="#231f20" stroke-width="0.15" textLength="86.50" lengthAdjust="spacingAndGlyphs" transform="rotate(-90 230.00 562.90)">Relative enrichment</text>
<text x="241.00" y="562.50" font-size="10.3" text-anchor="middle" stroke="#231f20" stroke-width="0.15" textLength="49.50" lengthAdjust="spacingAndGlyphs" transform="rotate(-90 241.00 562.50)">(AcH3 / H3)</text>
<line x1="259.40" y1="623.40" x2="259.40" y2="704.70" stroke="#2b2b2b" stroke-width="1.2"/>
<line x1="258.80" y1="704.30" x2="457.30" y2="704.30" stroke="#2b2b2b" stroke-width="1.2"/>
<line x1="256.30" y1="704.30" x2="260.60" y2="704.30" stroke="#2b2b2b" stroke-width="0.9"/>
<text x="253.40" y="707.30" font-size="8.3" text-anchor="end" stroke="#231f20" textLength="4.50" lengthAdjust="spacingAndGlyphs">0</text>
<line x1="256.30" y1="691.35" x2="260.60" y2="691.35" stroke="#2b2b2b" stroke-width="0.9"/>
<text x="253.40" y="694.35" font-size="8.3" text-anchor="end" stroke="#231f20" textLength="4.50" lengthAdjust="spacingAndGlyphs">1</text>
<line x1="256.30" y1="678.40" x2="260.60" y2="678.40" stroke="#2b2b2b" stroke-width="0.9"/>
<text x="253.40" y="681.40" font-size="8.3" text-anchor="end" stroke="#231f20" textLength="4.50" lengthAdjust="spacingAndGlyphs">2</text>
<line x1="256.30" y1="665.45" x2="260.60" y2="665.45" stroke="#2b2b2b" stroke-width="0.9"/>
<text x="253.40" y="668.45" font-size="8.3" text-anchor="end" stroke="#231f20" textLength="4.50" lengthAdjust="spacingAndGlyphs">3</text>
<line x1="256.30" y1="652.50" x2="260.60" y2="652.50" stroke="#2b2b2b" stroke-width="0.9"/>
<text x="253.40" y="655.50" font-size="8.3" text-anchor="end" stroke="#231f20" textLength="4.50" lengthAdjust="spacingAndGlyphs">4</text>
<line x1="256.30" y1="639.55" x2="260.60" y2="639.55" stroke="#2b2b2b" stroke-width="0.9"/>
<text x="253.40" y="642.55" font-size="8.3" text-anchor="end" stroke="#231f20" textLength="4.50" lengthAdjust="spacingAndGlyphs">5</text>
<line x1="256.30" y1="626.60" x2="260.60" y2="626.60" stroke="#2b2b2b" stroke-width="0.9"/>
<text x="253.40" y="629.60" font-size="8.3" text-anchor="end" stroke="#231f20" textLength="4.50" lengthAdjust="spacingAndGlyphs">6</text>
<line x1="259.40" y1="704.30" x2="259.40" y2="707.50" stroke="#2b2b2b" stroke-width="0.9"/>
<line x1="275.55" y1="704.30" x2="275.55" y2="707.50" stroke="#2b2b2b" stroke-width="0.9"/>
<line x1="291.70" y1="704.30" x2="291.70" y2="707.50" stroke="#2b2b2b" stroke-width="0.9"/>
<line x1="307.85" y1="704.30" x2="307.85" y2="707.50" stroke="#2b2b2b" stroke-width="0.9"/>
<line x1="324.00" y1="704.30" x2="324.00" y2="707.50" stroke="#2b2b2b" stroke-width="0.9"/>
<line x1="340.15" y1="704.30" x2="340.15" y2="707.50" stroke="#2b2b2b" stroke-width="0.9"/>
<line x1="356.30" y1="704.30" x2="356.30" y2="707.50" stroke="#2b2b2b" stroke-width="0.9"/>
<line x1="372.45" y1="704.30" x2="372.45" y2="707.50" stroke="#2b2b2b" stroke-width="0.9"/>
<line x1="388.60" y1="704.30" x2="388.60" y2="707.50" stroke="#2b2b2b" stroke-width="0.9"/>
<line x1="404.75" y1="704.30" x2="404.75" y2="707.50" stroke="#2b2b2b" stroke-width="0.9"/>
<line x1="420.90" y1="704.30" x2="420.90" y2="707.50" stroke="#2b2b2b" stroke-width="0.9"/>
<line x1="437.05" y1="704.30" x2="437.05" y2="707.50" stroke="#2b2b2b" stroke-width="0.9"/>
<line x1="453.20" y1="704.30" x2="453.20" y2="707.50" stroke="#2b2b2b" stroke-width="0.9"/>
<line x1="267.40" y1="689.15" x2="267.40" y2="691.35" stroke="#333" stroke-width="1.0"/>
<line x1="265.40" y1="689.15" x2="269.40" y2="689.15" stroke="#333" stroke-width="1.0"/>
<rect x="264.50" y="691.70" width="5.80" height="12.60" fill="#a23646" stroke="#921c31" stroke-width="0.7"/>
<line x1="283.55" y1="690.05" x2="283.55" y2="691.35" stroke="#333" stroke-width="1.0"/>
<line x1="281.55" y1="690.05" x2="285.55" y2="690.05" stroke="#333" stroke-width="1.0"/>
<rect x="280.65" y="691.70" width="5.80" height="12.60" fill="#a23646" stroke="#921c31" stroke-width="0.7"/>
<line x1="299.70" y1="689.54" x2="299.70" y2="691.35" stroke="#333" stroke-width="1.0"/>
<line x1="297.70" y1="689.54" x2="301.70" y2="689.54" stroke="#333" stroke-width="1.0"/>
<rect x="296.80" y="691.70" width="5.80" height="12.60" fill="#a23646" stroke="#921c31" stroke-width="0.7"/>
<line x1="315.85" y1="690.57" x2="315.85" y2="691.35" stroke="#333" stroke-width="1.0"/>
<line x1="313.85" y1="690.57" x2="317.85" y2="690.57" stroke="#333" stroke-width="1.0"/>
<rect x="312.95" y="691.70" width="5.80" height="12.60" fill="#a23646" stroke="#921c31" stroke-width="0.7"/>
<line x1="332.00" y1="647.97" x2="332.00" y2="651.85" stroke="#333" stroke-width="1.0"/>
<line x1="330.00" y1="647.97" x2="334.00" y2="647.97" stroke="#333" stroke-width="1.0"/>
<rect x="329.10" y="652.20" width="5.80" height="52.10" fill="#4f6384" stroke="#3b5378" stroke-width="0.7"/>
<line x1="348.15" y1="662.86" x2="348.15" y2="663.51" stroke="#333" stroke-width="1.0"/>
<line x1="346.15" y1="662.86" x2="350.15" y2="662.86" stroke="#333" stroke-width="1.0"/>
<rect x="345.25" y="663.86" width="5.80" height="40.44" fill="#4f6384" stroke="#3b5378" stroke-width="0.7"/>
<line x1="364.30" y1="651.46" x2="364.30" y2="652.11" stroke="#333" stroke-width="1.0"/>
<line x1="362.30" y1="651.46" x2="366.30" y2="651.46" stroke="#333" stroke-width="1.0"/>
<rect x="361.40" y="652.46" width="5.80" height="51.84" fill="#4f6384" stroke="#3b5378" stroke-width="0.7"/>
<line x1="380.45" y1="637.87" x2="380.45" y2="643.69" stroke="#333" stroke-width="1.0"/>
<line x1="378.45" y1="637.87" x2="382.45" y2="637.87" stroke="#333" stroke-width="1.0"/>
<rect x="377.55" y="644.04" width="5.80" height="60.26" fill="#4f6384" stroke="#3b5378" stroke-width="0.7"/>
<line x1="396.60" y1="675.29" x2="396.60" y2="675.94" stroke="#333" stroke-width="1.0"/>
<line x1="394.60" y1="675.29" x2="398.60" y2="675.29" stroke="#333" stroke-width="1.0"/>
<rect x="393.70" y="676.29" width="5.80" height="28.01" fill="#7aa961" stroke="#64a044" stroke-width="0.7"/>
<line x1="412.75" y1="687.98" x2="412.75" y2="688.50" stroke="#333" stroke-width="1.0"/>
<line x1="410.75" y1="687.98" x2="414.75" y2="687.98" stroke="#333" stroke-width="1.0"/>
<rect x="409.85" y="688.85" width="5.80" height="15.45" fill="#7aa961" stroke="#64a044" stroke-width="0.7"/>
<line x1="428.90" y1="675.55" x2="428.90" y2="676.20" stroke="#333" stroke-width="1.0"/>
<line x1="426.90" y1="675.55" x2="430.90" y2="675.55" stroke="#333" stroke-width="1.0"/>
<rect x="426.00" y="676.55" width="5.80" height="27.75" fill="#7aa961" stroke="#64a044" stroke-width="0.7"/>
<line x1="445.05" y1="677.10" x2="445.05" y2="677.75" stroke="#333" stroke-width="1.0"/>
<line x1="443.05" y1="677.10" x2="447.05" y2="677.10" stroke="#333" stroke-width="1.0"/>
<rect x="442.15" y="678.10" width="5.80" height="26.20" fill="#7aa961" stroke="#64a044" stroke-width="0.7"/>
<text x="267.40" y="718.50" font-size="8.8" text-anchor="middle" stroke="#231f20">c</text>
<text x="283.55" y="718.50" font-size="8.8" text-anchor="middle" stroke="#231f20">d</text>
<text x="299.70" y="718.50" font-size="8.8" text-anchor="middle" stroke="#231f20">e</text>
<text x="315.85" y="718.50" font-size="8.8" text-anchor="middle" stroke="#231f20">f</text>
<text x="332.00" y="718.50" font-size="8.8" text-anchor="middle" stroke="#231f20">c</text>
<text x="348.15" y="718.50" font-size="8.8" text-anchor="middle" stroke="#231f20">d</text>
<text x="364.30" y="718.50" font-size="8.8" text-anchor="middle" stroke="#231f20">e</text>
<text x="380.45" y="718.50" font-size="8.8" text-anchor="middle" stroke="#231f20">f</text>
<text x="396.60" y="718.50" font-size="8.8" text-anchor="middle" stroke="#231f20">c</text>
<text x="412.75" y="718.50" font-size="8.8" text-anchor="middle" stroke="#231f20">d</text>
<text x="428.90" y="718.50" font-size="8.8" text-anchor="middle" stroke="#231f20">e</text>
<text x="445.05" y="718.50" font-size="8.8" text-anchor="middle" stroke="#231f20">f</text>
<text x="230.00" y="664.40" font-size="10.6" text-anchor="middle" stroke="#231f20" stroke-width="0.15" textLength="86.50" lengthAdjust="spacingAndGlyphs" transform="rotate(-90 230.00 664.40)">Relative enrichment</text>
<text x="241.00" y="665.00" font-size="10.3" text-anchor="middle" stroke="#231f20" stroke-width="0.15" textLength="49.50" lengthAdjust="spacingAndGlyphs" transform="rotate(-90 241.00 665.00)">(AcH4 / H3)</text>
<rect x="264.00" y="726.60" width="8.70" height="8.40" fill="#a6324a"/>
<text x="275.90" y="733.70" font-size="8.8" stroke="#231f20" textLength="25.00" lengthAdjust="spacingAndGlyphs">Control</text>
<rect x="316.50" y="726.60" width="8.40" height="8.40" fill="#4a5f85"/>
<text x="328.60" y="733.70" font-size="8.8" stroke="#231f20" textLength="45.30" lengthAdjust="spacingAndGlyphs">NUP98-HBO1</text>
<rect x="396.70" y="726.30" width="8.90" height="8.90" fill="#74ad56"/>
<text x="408.30" y="733.70" font-size="8.8" stroke="#231f20" textLength="44.90" lengthAdjust="spacingAndGlyphs">NUP98-HBO1</text>
<text x="453.40" y="730.00" font-size="5.3" stroke="#231f20" stroke-width="0.05" textLength="18.00" lengthAdjust="spacingAndGlyphs">&#916;MYST</text>
<rect x="0.00" y="0.00" width="520.00" height="1.10" fill="#111"/>
<rect x="0.00" y="0.00" width="1.10" height="745.00" fill="#111"/>
<rect x="518.90" y="0.00" width="1.10" height="745.00" fill="#111"/>
<rect x="0.00" y="742.80" width="520.00" height="2.20" fill="#5c5c5c"/>
</g>
</svg>
</body></html>
